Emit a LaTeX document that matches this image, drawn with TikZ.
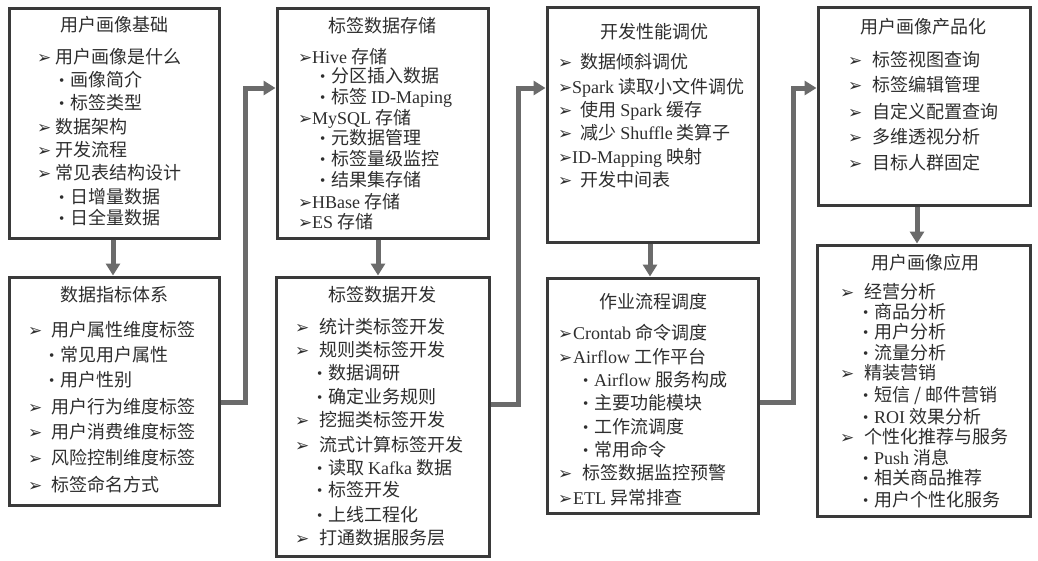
\documentclass[tikz,border=0pt]{standalone}
\usepackage{fontspec}
\setmainfont{Noto Sans CJK SC}
\newfontfamily\lat{Liberation Serif}
\newfontfamily\sym{DejaVu Sans}
\usetikzlibrary{arrows.meta,fit}
\definecolor{txt}{HTML}{2E2E2E}
\definecolor{bord}{HTML}{3A3A3A}
\definecolor{conncol}{HTML}{6B6B6B}
\newcommand\ar[1][18]{\makebox[#1pt][l]{\raisebox{0.5pt}{\sym\fontsize{17}{17}\selectfont ➢}}}
\newcommand\bu{\makebox[11pt][l]{\raisebox{1.5pt}{\lat\fontsize{15}{15}\selectfont •}}}
\tikzset{
  box/.style={draw=bord, line width=3pt, inner sep=0pt},
  itm/.style={anchor=base west, inner sep=0pt, yshift=-6.8pt, text=txt, font=\fontsize{18}{18}\selectfont},
  ttl/.style={anchor=base, inner sep=0pt, yshift=-6.8pt, text=txt, font=\fontsize{18}{18}\selectfont},
  link/.style={draw=conncol, line width=5pt, -{Triangle[width=14pt,length=12pt]}}
}
\begin{document}
\begin{tikzpicture}[x=1pt,y=-1pt]
\useasboundingbox[fill=white] (0,0) rectangle (1038,560);
% boxes
\node[box, fit={(9,8) (219,238)}] (b1) {};
\node[box, fit={(9,277) (219,505)}] (b2) {};
\node[box, fit={(277,8) (488,238)}] (b3) {};
\node[box, fit={(276,277) (489,556)}] (b4) {};
\node[box, fit={(547,7) (758,242)}] (b5) {};
\node[box, fit={(547,278) (758,513)}] (b6) {};
\node[box, fit={(818,7) (1030,205)}] (b7) {};
\node[box, fit={(817,245) (1030,516)}] (b8) {};
% box 1
\node[ttl] (t1) at (114,25) {用户画像基础};
\node[itm] (b1l1) at (37,57) {\ar 用户画像是什么};
\node[itm] (b1l2) at (59,80) {\bu 画像简介};
\node[itm] (b1l3) at (59,103) {\bu 标签类型};
\node[itm] (b1l4) at (37,127) {\ar 数据架构};
\node[itm] (b1l5) at (37,150) {\ar 开发流程};
\node[itm] (b1l6) at (37,173) {\ar 常见表结构设计};
\node[itm] (b1l7) at (59,197) {\bu 日增量数据};
\node[itm] (b1l8) at (59,218) {\bu 日全量数据};
% box 2
\node[ttl] (t2) at (114,295) {数据指标体系};
\node[itm] (b2l1) at (28,330) {\ar[19] 用户属性维度标签};
\node[itm] (b2l2) at (49,355) {\bu 常见用户属性};
\node[itm] (b2l3) at (49,380) {\bu 用户性别};
\node[itm] (b2l4) at (28,407) {\ar[19] 用户行为维度标签};
\node[itm] (b2l5) at (28,432) {\ar[19] 用户消费维度标签};
\node[itm] (b2l6) at (28,458) {\ar[19] 风险控制维度标签};
\node[itm] (b2l7) at (28,485) {\ar[19] 标签命名方式};
% box 3
\node[ttl] (t3) at (382,26) {标签数据存储};
\node[itm] (b3l1) at (298,57) {\ar[14]{\lat Hive} 存储};
\node[itm] (b3l2) at (320,76) {\bu 分区插入数据};
\node[itm] (b3l3) at (320,97) {\bu 标签 {\lat ID-Maping}};
\node[itm] (b3l4) at (298,118) {\ar[14]{\lat MySQL} 存储};
\node[itm] (b3l5) at (320,138) {\bu 元数据管理};
\node[itm] (b3l6) at (320,159) {\bu 标签量级监控};
\node[itm] (b3l7) at (320,180) {\bu 结果集存储};
\node[itm] (b3l8) at (298,202) {\ar[14]{\lat HBase} 存储};
\node[itm] (b3l9) at (298,222) {\ar[14]{\lat ES} 存储};
% box 4
\node[ttl] (t4) at (382,295) {标签数据开发};
\node[itm] (b4l1) at (295,327) {\ar[20] 统计类标签开发};
\node[itm] (b4l2) at (295,350) {\ar[20] 规则类标签开发};
\node[itm] (b4l3) at (317,373) {\bu 数据调研};
\node[itm] (b4l4) at (317,397) {\bu 确定业务规则};
\node[itm] (b4l5) at (295,420) {\ar[20] 挖掘类标签开发};
\node[itm] (b4l6) at (295,445) {\ar[20] 流式计算标签开发};
\node[itm] (b4l7) at (317,468) {\bu 读取 {\lat Kafka} 数据};
\node[itm] (b4l8) at (317,490) {\bu 标签开发};
\node[itm] (b4l9) at (317,515) {\bu 上线工程化};
\node[itm] (b4l10) at (295,538) {\ar[20] 打通数据服务层};
% box 5
\node[ttl] (t5) at (654,32) {开发性能调优};
\node[itm] (b5l1) at (558,62) {\ar[18] 数据倾斜调优};
\node[itm] (b5l2) at (558,87) {\ar[14]{\lat Spark} 读取小文件调优};
\node[itm] (b5l3) at (558,110) {\ar[18] 使用 {\lat Spark} 缓存};
\node[itm] (b5l4) at (558,133) {\ar[18] 减少 {\lat Shuffle} 类算子};
\node[itm] (b5l5) at (558,157) {\ar[14]{\lat ID-Mapping} 映射};
\node[itm] (b5l6) at (558,180) {\ar[18] 开发中间表};
% box 6
\node[ttl] (t6) at (653,302) {作业流程调度};
\node[itm] (b6l1) at (558,333) {\ar[15]{\lat Crontab} 命令调度};
\node[itm] (b6l2) at (558,357) {\ar[15]{\lat Airflow} 工作平台};
\node[itm] (b6l3) at (583,380) {\bu {\lat Airflow} 服务构成};
\node[itm] (b6l4) at (583,403) {\bu 主要功能模块};
\node[itm] (b6l5) at (583,427) {\bu 工作流调度};
\node[itm] (b6l6) at (583,450) {\bu 常用命令};
\node[itm] (b6l7) at (558,473) {\ar[20] 标签数据监控预警};
\node[itm] (b6l8) at (558,498) {\ar[15]{\lat ETL} 异常排查};
% box 7
\node[ttl] (t7) at (923,27) {用户画像产品化};
\node[itm] (b7l1) at (848,60) {\ar[20] 标签视图查询};
\node[itm] (b7l2) at (848,85) {\ar[20] 标签编辑管理};
\node[itm] (b7l3) at (848,112) {\ar[20] 自定义配置查询};
\node[itm] (b7l4) at (848,137) {\ar[20] 多维透视分析};
\node[itm] (b7l5) at (848,163) {\ar[20] 目标人群固定};
% box 8
\node[ttl] (t8) at (925,263) {用户画像应用};
\node[itm] (b8l1) at (840,292) {\ar[20] 经营分析};
\node[itm] (b8l2) at (863,312) {\bu 商品分析};
\node[itm] (b8l3) at (863,332) {\bu 用户分析};
\node[itm] (b8l4) at (863,353) {\bu 流量分析};
\node[itm] (b8l5) at (840,373) {\ar[20] 精装营销};
\node[itm] (b8l6) at (863,395) {\bu 短信 / 邮件营销};
\node[itm] (b8l7) at (863,417) {\bu {\lat ROI} 效果分析};
\node[itm] (b8l8) at (840,437) {\ar[20] 个性化推荐与服务};
\node[itm] (b8l9) at (863,458) {\bu {\lat Push} 消息};
\node[itm] (b8l10) at (863,478) {\bu 相关商品推荐};
\node[itm] (b8l11) at (863,500) {\bu 用户个性化服务};
% vertical connectors
\coordinate (v1) at (113,0);
\coordinate (v3) at (378,0);
\coordinate (v5) at (650,0);
\coordinate (v7) at (917,0);
\draw[link] (b1.south -| v1) -- (b2.north -| v1);
\draw[link] (b3.south -| v3) -- (b4.north -| v3);
\draw[link] (b5.south -| v5) -- (b6.north -| v5);
\draw[link] (b7.south -| v7) -- (b8.north -| v7);
% stepped connectors
\coordinate (c2a) at (245,402); \coordinate (c2b) at (245,88);
\draw[link] (b2.east |- c2a) -- (c2a) -- (c2b) -- (b3.west |- c2b);
\coordinate (c4a) at (518,404); \coordinate (c4b) at (518,88);
\draw[link] (b4.east |- c4a) -- (c4a) -- (c4b) -- (b5.west |- c4b);
\coordinate (c6a) at (793,402); \coordinate (c6b) at (793,88);
\draw[link] (b6.east |- c6a) -- (c6a) -- (c6b) -- (b7.west |- c6b);
\end{tikzpicture}
\end{document}
